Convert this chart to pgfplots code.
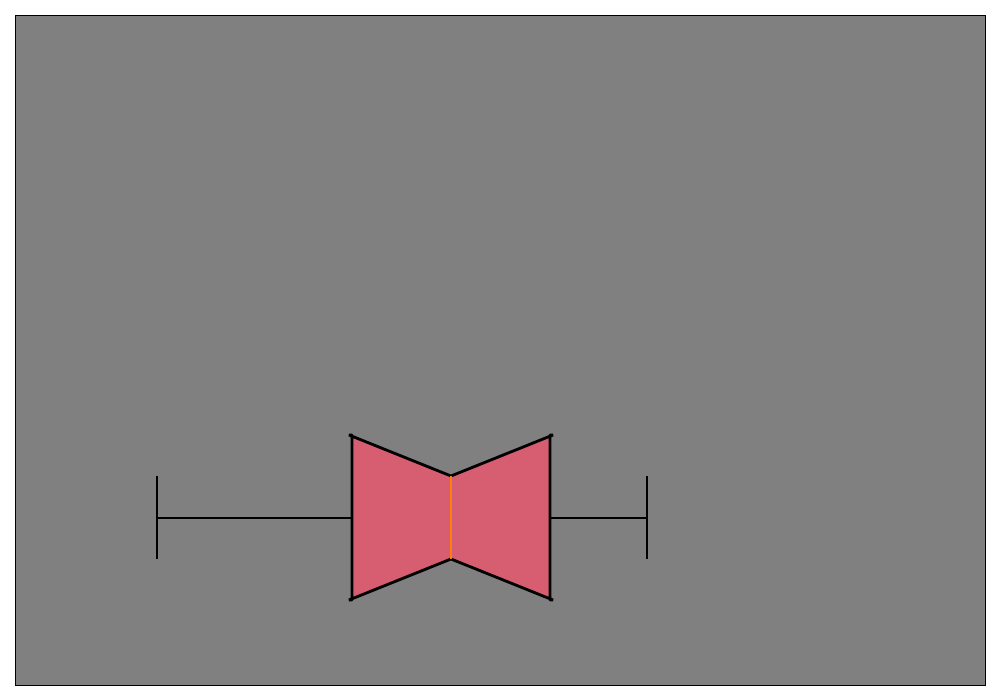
\documentclass[border=0pt]{standalone}
\usepackage{pgfplots}
\pgfplotsset{compat=1.18}
\definecolor{bg}{RGB}{128,128,128}
\definecolor{boxfill}{RGB}{214,94,112}
\definecolor{medc}{RGB}{255,127,14}
\begin{document}
\begin{tikzpicture}
\begin{axis}[
  scale only axis,
  width=970pt, height=670pt,
  xmin=0, xmax=970, ymin=0, ymax=670,
  xtick=\empty, ytick=\empty,
  axis background/.style={fill=bg},
  axis line style={black, line width=0.8pt},
  clip=false,
]
% whiskers
\addplot[black, line width=1.1pt] coordinates {(142,167) (337,167)};
\addplot[black, line width=1.1pt] coordinates {(535,167) (632,167)};
% caps
\addplot[black, line width=1.1pt] coordinates {(142,126) (142,209)};
\addplot[black, line width=1.1pt] coordinates {(632,126) (632,209)};
% notched box
\addplot[fill=boxfill, draw=black, line width=2.8pt, line join=bevel] coordinates {
 (337,85) (337,250) (334,250) (436,209) (538,250) (535,250)
 (535,85) (538,85) (436,126) (334,85) (337,85)} -- cycle;
% median
\addplot[medc, line width=1.1pt] coordinates {(436,126) (436,209)};
\end{axis}
\path ([shift={(-15pt,-15pt)}]current axis.south west) rectangle ([shift={(15pt,15pt)}]current axis.north east);
\end{tikzpicture}
\end{document}
